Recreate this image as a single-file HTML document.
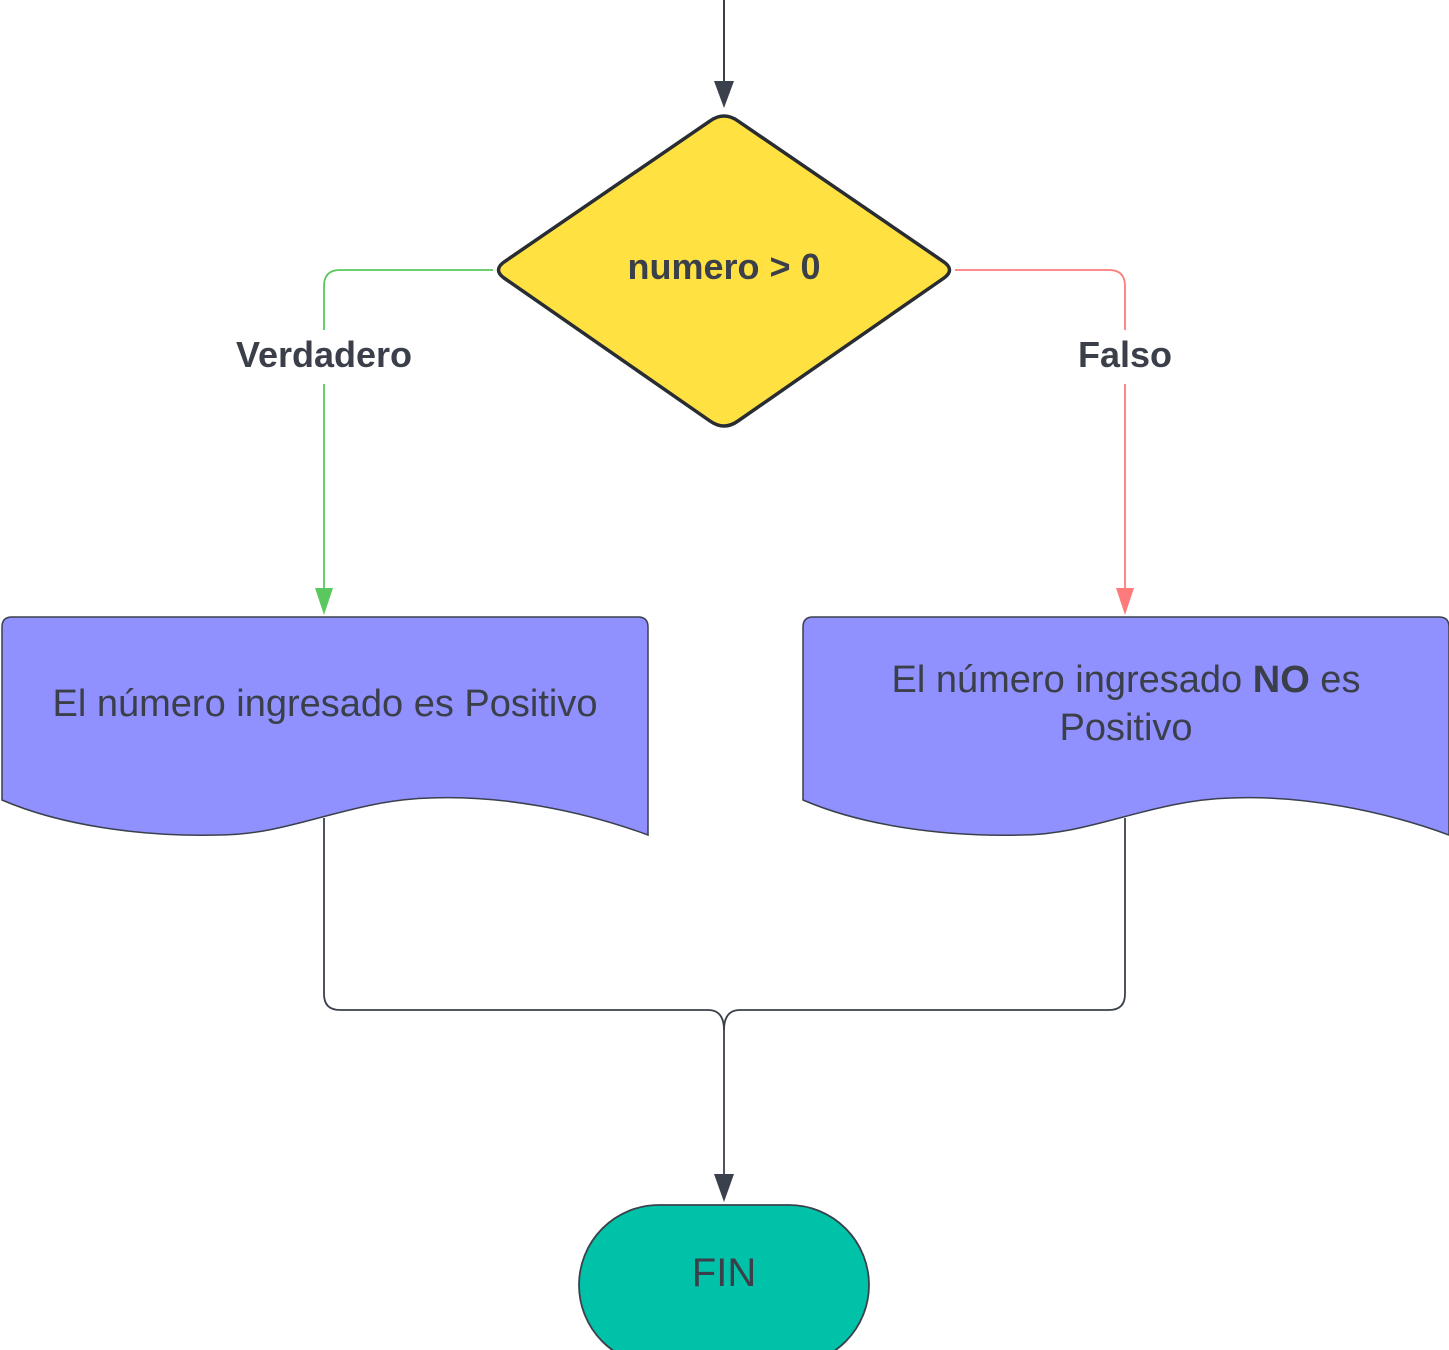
<!DOCTYPE html>
<html><head><meta charset="utf-8"><style>
html,body{margin:0;padding:0;background:#fff;}
svg{display:block;}
text{font-family:"Liberation Sans",Arial,sans-serif;fill:#3a3f4a;}
</style></head><body>
<svg width="1449" height="1350" viewBox="0 0 1449 1350" xmlns="http://www.w3.org/2000/svg">
<!-- top arrow -->
<line x1="724" y1="0" x2="724" y2="84" stroke="#3a414c" stroke-width="2"/>
<polygon points="714,81 734,81 724,108" fill="#3a414c"/>
<!-- diamond -->
<path d="M710,121 Q724,111 738,121 L944,262 Q955,270 944,278 L738,421 Q724,431 710,421 L504,278 Q493,270 504,262 Z" fill="#ffe142" stroke="#282c33" stroke-width="3.5"/>
<text x="724" y="279" font-size="36" font-weight="bold" text-anchor="middle" fill="#282c33">numero &gt; 0</text>
<!-- green connector -->
<path d="M493,270 L340,270 Q324,270 324,286 L324,330" fill="none" stroke="#5ac85e" stroke-width="1.8"/>
<path d="M324,384 L324,590" fill="none" stroke="#5ac85e" stroke-width="1.8"/>
<polygon points="315,588 333,588 324,615" fill="#5ac85e"/>
<text x="324" y="367" font-size="36" font-weight="bold" text-anchor="middle">Verdadero</text>
<!-- red connector -->
<path d="M955,270 L1109,270 Q1125,270 1125,286 L1125,330" fill="none" stroke="#ff7b7b" stroke-width="1.8"/>
<path d="M1125,384 L1125,590" fill="none" stroke="#ff7b7b" stroke-width="1.8"/>
<polygon points="1116,588 1134,588 1125,615" fill="#ff7b7b"/>
<text x="1125" y="367" font-size="36" font-weight="bold" text-anchor="middle">Falso</text>
<!-- documents -->
<path d="M2,627 Q2,617 12,617 L638,617 Q648,617 648,627 L648,835 C580,810 500,795 430,798 C350,800 290,835 220,835 C140,837 60,825 2,800 Z" fill="#9090ff" stroke="#3a414c" stroke-width="1.5"/>
<text x="325" y="716" font-size="38" text-anchor="middle">El número ingresado es Positivo</text>
<path d="M803,627 Q803,617 813,617 L1439,617 Q1449,617 1449,627 L1449,835 C1381,810 1301,795 1231,798 C1151,800 1091,835 1021,835 C941,837 861,825 803,800 Z" fill="#9090ff" stroke="#3a414c" stroke-width="1.5"/>
<text x="1126" y="692" font-size="38" text-anchor="middle">El número ingresado <tspan font-weight="bold">NO</tspan> es</text>
<text x="1126" y="740" font-size="38" text-anchor="middle">Positivo</text>
<!-- merge -->
<path d="M324,818 L324,994 Q324,1010 340,1010 L708,1010 Q724,1010 724,1030 L724,1180" fill="none" stroke="#3a414c" stroke-width="1.8"/>
<path d="M1125,818 L1125,994 Q1125,1010 1109,1010 L740,1010 Q724,1010 724,1030" fill="none" stroke="#3a414c" stroke-width="1.8"/>
<polygon points="714,1174 734,1174 724,1202" fill="#3a414c"/>
<!-- FIN -->
<rect x="579" y="1205" width="290" height="160" rx="80" ry="80" fill="#00c2a8" stroke="#3a414c" stroke-width="1.8"/>
<text x="724" y="1286" font-size="40" text-anchor="middle">FIN</text>
</svg>
</body></html>
